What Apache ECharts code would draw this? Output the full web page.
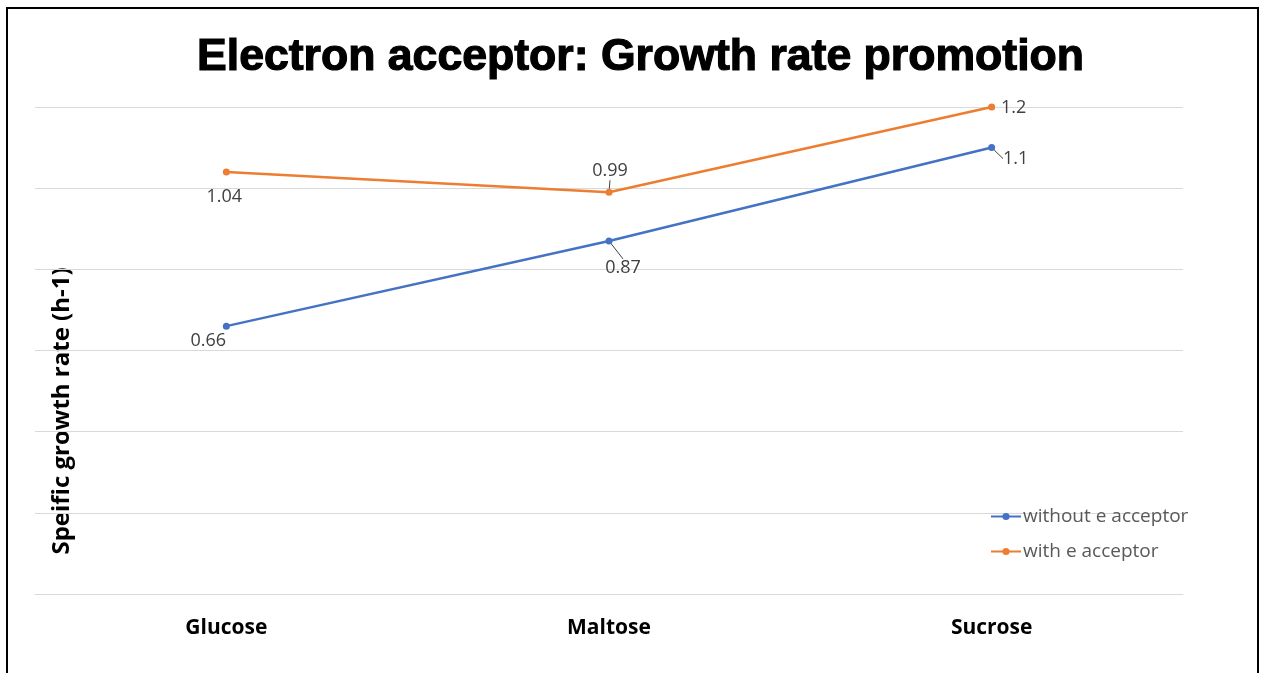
<!DOCTYPE html>
<html>
<head>
<meta charset="utf-8">
<script src="https://cdn.jsdelivr.net/npm/echarts@6/dist/echarts.min.js"></script>
<style>
html,body{margin:0;padding:0;background:#fff;}
#c{width:1267px;height:673px;}
</style>
</head>
<body>
<div id="c"></div>
<script>
const categories = ['Glucose', 'Maltose', 'Sucrose'];
const seriesNames = ['without e acceptor', 'with e acceptor'];
const withoutAcceptor = [0.66, 0.87, 1.1];
const withAcceptor = [1.04, 0.99, 1.2];
const titleText = 'Electron acceptor: Growth rate promotion';
const yAxisTitle = 'Speific growth rate (h-1)';

// label placement (style only): [dx, dy, useLeaderLine]
const blueLabelShift = [[-18, 15, false], [14, 27, true], [24, 11, true]];
const orangeLabelShift = [[-2, 25, false], [1, -21, true], [22, 1, false]];

const chart = echarts.init(document.getElementById('c'));
function buildData(values, shifts) {
  return values.map(function (v, i) {
    return { value: v, labelLine: { show: shifts[i][2] } };
  });
}
function layoutFor(shifts) {
  return function (p) {
    const s = shifts[p.dataIndex];
    return { dx: s[0], dy: s[1] };
  };
}
const labelStyle = {
  show: true, position: 'inside', fontSize: 18, color: '#404040',
  fontFamily: 'Open Sans'
};
chart.setOption({
  animation: false,
  title: {
    text: titleText, left: 197, top: 35, padding: 0,
    textStyle: { fontFamily: 'Liberation Sans', fontWeight: 'bold', fontSize: 44.6, color: '#000',
      textBorderColor: '#000', textBorderWidth: 1.2 }
  },
  graphic: [
    { type: 'rect', shape: { x: 7, y: 8, width: 1251, height: 700 },
      style: { fill: 'none', stroke: '#000', lineWidth: 2 }, silent: true },
    { type: 'text', x: 62, y: 411, rotation: Math.PI / 2,
      style: { text: yAxisTitle, fontFamily: 'Open Sans', fontWeight: 'bold', fontSize: 24,
        fill: '#000', align: 'center', verticalAlign: 'middle' } }
  ],
  legend: {
    orient: 'vertical', left: 990, top: 507, padding: 0, itemGap: 16, itemWidth: 30, itemHeight: 9,
    textStyle: { fontFamily: 'Open Sans', fontSize: 19, color: '#595959', padding: [0, 0, 0, -3] },
    data: seriesNames
  },
  grid: { left: 35, right: 84, top: 107, bottom: 79 },
  xAxis: {
    type: 'category', data: categories, boundaryGap: true,
    axisLine: { lineStyle: { color: '#d9d9d9' } }, axisTick: { show: false },
    axisLabel: { fontFamily: 'Open Sans', fontWeight: 'bold', fontSize: 21, color: '#000', margin: 24 }
  },
  yAxis: {
    type: 'value', min: 0, max: 1.2, interval: 0.2,
    axisLabel: { show: false }, axisLine: { show: false }, axisTick: { show: false },
    splitLine: { lineStyle: { color: '#d9d9d9', width: 1 } }
  },
  series: [
    { name: seriesNames[0], type: 'line', data: buildData(withoutAcceptor, blueLabelShift),
      symbol: 'circle', symbolSize: 7,
      lineStyle: { color: '#4472C4', width: 2.5 }, itemStyle: { color: '#4472C4' },
      label: labelStyle, labelLayout: layoutFor(blueLabelShift),
      labelLine: { show: true, lineStyle: { color: '#404040', width: 1 } } },
    { name: seriesNames[1], type: 'line', data: buildData(withAcceptor, orangeLabelShift),
      symbol: 'circle', symbolSize: 7,
      lineStyle: { color: '#ED7D31', width: 2.5 }, itemStyle: { color: '#ED7D31' },
      label: labelStyle, labelLayout: layoutFor(orangeLabelShift),
      labelLine: { show: true, lineStyle: { color: '#404040', width: 1 } } }
  ]
});
</script>
</body>
</html>
